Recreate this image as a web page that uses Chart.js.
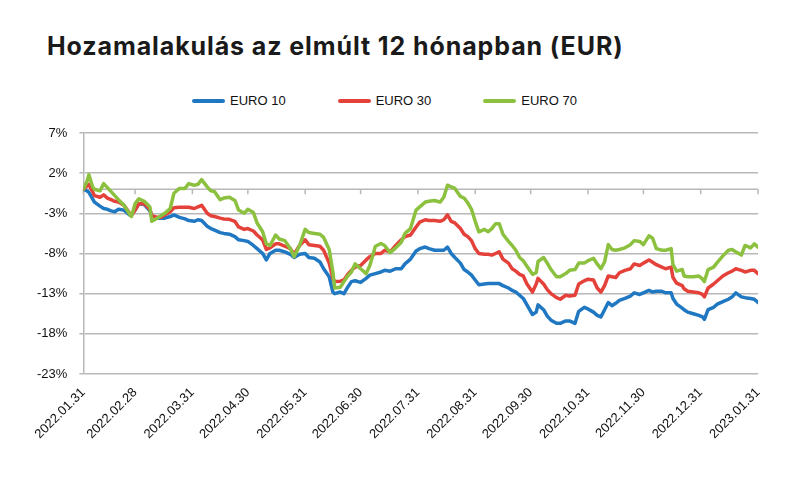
<!DOCTYPE html>
<html lang="hu">
<head>
<meta charset="utf-8">
<title>Hozamalakulás az elmúlt 12 hónapban (EUR)</title>
<script src="https://cdn.jsdelivr.net/npm/chart.js@4.4.1/dist/chart.umd.min.js"></script>
<style>
  html, body { margin: 0; padding: 0; background: #fff; }
  #wrap { position: relative; width: 800px; height: 491px; overflow: hidden; }
  h1 {
    position: absolute; left: 47px; top: 31px; margin: 0;
    font-family: Inter, 'Noto Sans', sans-serif; font-weight: 700;
    font-size: 25px; line-height: 30px; letter-spacing: 0.9px;
    color: #1a1a1a; white-space: nowrap;
  }
  #legend {
    position: absolute; left: 192px; top: 93px; display: flex; gap: 52px;
    font-family: 'Liberation Sans', Arial, sans-serif; font-size: 13px; color: #111;
  }
  .item { display: flex; align-items: center; }
  .swatch { width: 33px; height: 4px; border-radius: 2px; margin-right: 5px; }
  canvas { position: absolute; left: 0; top: 0; }
</style>
</head>
<body>
<div id="wrap">
  <h1>Hozamalakulás az elmúlt 12 hónapban (EUR)</h1>
  <div id="legend"></div>
  <canvas id="chart" width="800" height="491"></canvas>
</div>
<script>
// days since 2022.01.31
const days = [0,2,3,5,6,9,11,13,15,17,19,22,25,26,28,30,33,36,37,40,42,44,47,49,52,55,57,60,62,64,
  67,69,71,74,76,79,82,84,87,89,92,94,97,99,101,104,106,109,112,114,117,120,122,125,128,130,133,135,136,139,
  141,143,145,147,150,153,155,158,161,163,166,169,172,174,177,180,182,185,187,190,193,195,197,199,201,204,206,208,210,212,
  214,217,219,221,223,225,227,230,232,234,236,238,240,243,245,246,249,251,253,256,258,261,263,266,268,271,273,276,278,280,
  282,284,286,288,290,293,296,298,301,303,306,308,310,313,315,318,319,321,324,325,327,330,333,335,336,338,341,343,346,349,
  351,353,356,358,361,363,365];

const euro10 = [0.0,-0.2,-0.4,-1.2,-1.6,-2.1,-2.4,-2.5,-2.7,-2.8,
  -2.5,-2.6,-3.2,-3.1,-2.6,-1.8,-1.9,-2.7,-3.3,-3.6,
  -3.6,-3.6,-3.4,-3.2,-3.5,-3.7,-3.9,-4.0,-3.8,-3.9,
  -4.6,-4.9,-5.1,-5.4,-5.5,-5.6,-5.9,-6.3,-6.4,-6.5,
  -7.0,-7.4,-8.0,-8.8,-8.0,-7.6,-7.6,-7.8,-8.1,-8.5,
  -8.1,-8.0,-8.5,-8.6,-9.05,-9.9,-10.9,-12.8,-13.0,-12.8,
  -13.0,-12.2,-11.5,-11.4,-11.6,-11.1,-10.7,-10.5,-10.3,-10.1,
  -10.2,-9.9,-9.9,-9.3,-8.7,-7.7,-7.4,-7.2,-7.4,-7.6,
  -7.6,-7.6,-7.2,-8.0,-8.5,-9.2,-10.0,-10.3,-10.7,-11.3,
  -11.9,-11.8,-11.75,-11.75,-11.75,-11.75,-12.0,-12.3,-12.6,-12.8,
  -13.2,-13.6,-14.4,-15.6,-15.3,-14.4,-15.0,-15.8,-16.3,-16.7,
  -16.7,-16.4,-16.4,-16.7,-15.2,-14.7,-14.9,-15.3,-15.7,-15.9,
  -15.0,-14.1,-14.5,-14.2,-13.85,-13.6,-13.3,-12.9,-13.1,-12.9,
  -12.6,-12.8,-12.7,-12.7,-12.9,-12.9,-13.6,-14.3,-14.8,-15.0,
  -15.3,-15.5,-15.7,-15.9,-16.2,-15.0,-14.7,-14.3,-14.0,-13.7,
  -13.4,-12.9,-13.4,-13.5,-13.6,-13.7,-14.1];

const euro30 = [0.0,0.4,0.6,-0.3,-0.8,-1.0,-0.7,-1.1,-1.3,-1.5,
  -1.6,-2.0,-3.0,-3.3,-2.6,-1.8,-1.8,-2.5,-3.3,-3.5,
  -3.5,-3.2,-2.8,-2.3,-2.25,-2.25,-2.25,-2.4,-2.2,-2.0,
  -3.0,-3.3,-3.4,-3.6,-3.7,-3.75,-4.0,-4.7,-5.0,-4.9,
  -5.2,-5.7,-6.3,-7.5,-7.3,-6.8,-6.8,-7.1,-7.4,-8.1,
  -7.0,-6.3,-6.9,-7.0,-7.1,-7.6,-9.2,-11.1,-11.5,-11.45,
  -11.3,-10.6,-10.1,-9.7,-9.5,-8.8,-8.4,-8.0,-8.0,-7.6,
  -7.8,-7.0,-6.3,-5.9,-5.7,-4.7,-4.1,-3.8,-3.9,-3.9,
  -4.0,-3.8,-3.2,-4.0,-4.2,-4.9,-5.6,-5.9,-6.4,-7.4,
  -8.0,-8.1,-8.1,-8.2,-8.0,-7.8,-8.7,-9.2,-9.9,-10.2,
  -10.6,-10.8,-11.8,-12.8,-11.8,-11.1,-11.8,-12.5,-13.0,-13.5,
  -13.7,-13.2,-13.3,-13.2,-11.8,-11.4,-11.2,-11.3,-12.3,-12.8,
  -12.0,-10.8,-10.9,-11.0,-10.4,-10.1,-9.9,-9.3,-9.5,-9.2,
  -8.8,-9.1,-9.4,-9.7,-9.9,-9.7,-11.0,-11.7,-12.0,-12.4,
  -12.7,-12.8,-12.9,-13.1,-13.4,-12.3,-11.8,-11.4,-10.8,-10.4,
  -10.2,-9.9,-10.1,-10.3,-10.1,-10.1,-10.5];

const euro70 = [0.0,1.0,1.8,0.3,0.0,-0.2,0.7,0.2,-0.3,-0.8,
  -1.3,-2.0,-3.1,-3.4,-1.8,-1.2,-1.5,-2.2,-4.0,-3.6,
  -3.3,-3.0,-2.4,-0.5,0.1,0.1,0.7,0.5,0.6,1.2,
  0.3,-0.2,-0.3,-1.3,-1.1,-1.0,-1.4,-2.6,-3.0,-2.5,
  -2.9,-4.2,-5.3,-6.8,-7.0,-5.7,-6.2,-6.4,-7.4,-8.4,
  -7.0,-5.0,-5.4,-5.5,-5.6,-6.0,-7.5,-10.3,-12.3,-12.2,
  -11.5,-10.8,-10.3,-9.3,-9.9,-10.5,-9.5,-7.1,-6.75,-7.0,
  -7.9,-7.3,-6.6,-5.5,-4.9,-2.6,-2.2,-1.6,-1.5,-1.4,
  -1.6,-1.0,0.5,0.3,0.1,-0.9,-1.1,-1.7,-2.5,-4.0,
  -5.3,-5.0,-5.3,-4.9,-4.3,-4.3,-5.6,-6.5,-7.0,-7.6,
  -8.5,-8.9,-9.6,-10.6,-10.4,-9.0,-8.5,-9.2,-10.0,-10.9,
  -10.9,-10.5,-10.1,-10.0,-9.2,-9.2,-8.9,-8.6,-9.3,-9.9,
  -9.05,-6.9,-7.5,-7.6,-7.5,-7.3,-6.9,-6.4,-6.5,-6.9,
  -5.8,-6.1,-7.4,-7.6,-7.6,-7.4,-9.4,-10.2,-10.0,-10.8,
  -10.9,-10.9,-10.8,-11.2,-11.5,-10.0,-9.7,-9.1,-8.3,-7.6,
  -7.5,-7.8,-8.2,-7.0,-7.3,-6.8,-7.2];

// month-end ticks
const tickDays = [0,28,59,89,120,150,181,212,242,273,303,334,365];
const tickLabels = ['2022.01.31','2022.02.28','2022.03.31','2022.04.30','2022.05.31','2022.06.30',
  '2022.07.31','2022.08.31','2022.09.30','2022.10.31','2022.11.30','2022.12.31','2023.01.31'];
const yTicks = [-23,-18,-13,-8,-3,2,7];

const seriesNames = ['EURO 10','EURO 30','EURO 70'];
const colors = ['#1f78c1','#e5413b','#8cc13f'];
const gridColor = '#b8b8b8';

const toPoints = vals => vals.map((v, i) => ({ x: days[i], y: v }));

// 0% axis line with month tick marks
const zeroAxis = {
  id: 'zeroAxis',
  beforeDatasetsDraw(chart) {
    const { ctx, chartArea, scales: { x, y } } = chart;
    const y0 = y.getPixelForValue(0);
    ctx.save();
    ctx.strokeStyle = gridColor;
    ctx.lineWidth = 1.5;
    ctx.beginPath();
    ctx.moveTo(chartArea.left, y0);
    ctx.lineTo(chartArea.right, y0);
    tickDays.forEach(d => {
      const px = x.getPixelForValue(d);
      ctx.moveTo(px, y0);
      ctx.lineTo(px, y0 + 5);
    });
    ctx.stroke();
    ctx.restore();
  }
};

const legendEl = document.getElementById('legend');
seriesNames.forEach((name, i) => {
  const item = document.createElement('div');
  item.className = 'item';
  item.innerHTML = `<span class="swatch" style="background:${colors[i]}"></span><span>${name}</span>`;
  legendEl.appendChild(item);
});

const tickFont = { family: "'Liberation Sans', Arial, sans-serif", size: 13 };

new Chart(document.getElementById('chart'), {
  type: 'line',
  data: {
    datasets: [
      { label: seriesNames[0], data: toPoints(euro10), borderColor: colors[0], order: 3 },
      { label: seriesNames[1], data: toPoints(euro30), borderColor: colors[1], order: 2 },
      { label: seriesNames[2], data: toPoints(euro70), borderColor: colors[2], order: 1 }
    ]
  },
  options: {
    responsive: false,
    animation: false,
    events: [],
    layout: { padding: { top: 133, left: 25, right: 42, bottom: 46 } },
    elements: {
      line: { borderWidth: 3.5, tension: 0, borderJoinStyle: 'round', borderCapStyle: 'round' },
      point: { radius: 0 }
    },
    plugins: { legend: { display: false }, tooltip: { enabled: false } },
    scales: {
      x: {
        type: 'linear',
        min: 0,
        max: 365,
        afterBuildTicks: scale => { scale.ticks = tickDays.map(v => ({ value: v })); },
        // rotated first label may hang into the left margin, as in the original
        afterFit: scale => { scale.paddingLeft = 0; scale.paddingRight = 0; },
        grid: { display: false },
        border: { display: false },
        ticks: {
          autoSkip: false,
          maxRotation: 45,
          minRotation: 45,
          padding: 3,
          color: '#111',
          font: tickFont,
          callback: v => tickLabels[tickDays.indexOf(v)]
        }
      },
      y: {
        min: -23,
        max: 7,
        afterBuildTicks: scale => { scale.ticks = yTicks.map(v => ({ value: v })); },
        grid: { color: gridColor, lineWidth: 1.5, tickLength: 4 },
        border: { display: true, color: gridColor, width: 1.5 },
        ticks: {
          padding: 12,
          color: '#111',
          font: tickFont,
          callback: v => v + '%'
        }
      }
    }
  },
  plugins: [zeroAxis]
});
</script>
</body>
</html>
